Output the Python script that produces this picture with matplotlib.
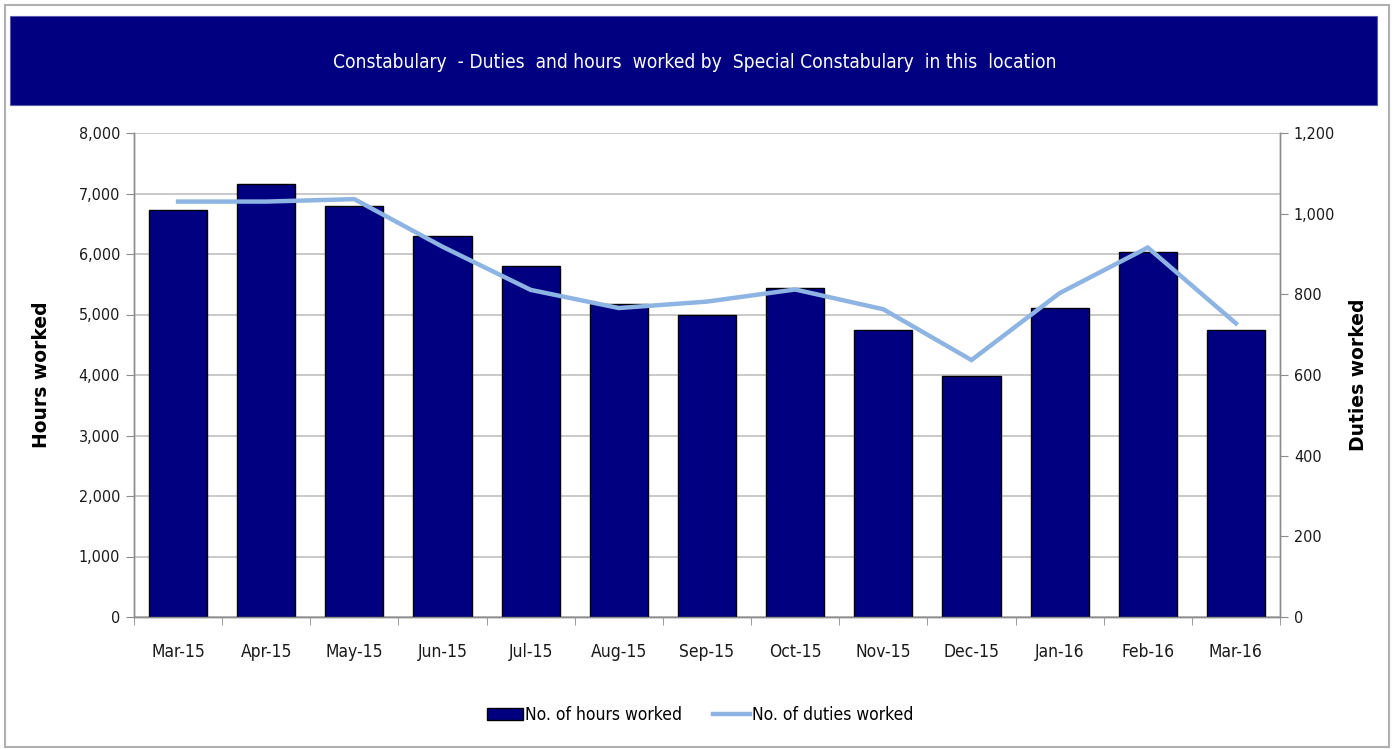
import matplotlib
matplotlib.use('Agg')
import matplotlib.pyplot as plt
from matplotlib.patches import Rectangle
import numpy as np

months = ['Mar-15', 'Apr-15', 'May-15', 'Jun-15', 'Jul-15', 'Aug-15', 'Sep-15',
          'Oct-15', 'Nov-15', 'Dec-15', 'Jan-16', 'Feb-16', 'Mar-16']
hours = [6730, 7150, 6790, 6300, 5800, 5170, 5000, 5440, 4740, 3980, 5100, 6030, 4740]
duties = [1030, 1030, 1036, 918, 811, 766, 782, 812, 763, 637, 803, 916, 728]

W, H = 1394, 749
navy = '#000080'
line_blue = '#8DB4E2'
grid_grey = '#c0c0c0'
axis_grey = '#8c8c8c'
txt = '#1a1a1a'

plt.rcParams['font.family'] = 'DejaVu Sans'

fig = plt.figure(figsize=(W / 100, H / 100), dpi=100)

# outer frame and title banner
fig.patches.append(Rectangle((5 / W, 1 - 747 / H), 1384 / W, 742 / H, transform=fig.transFigure,
                             facecolor='none', edgecolor='#b0b0b0', linewidth=1.5, zorder=-1))
fig.patches.append(Rectangle((10 / W, 1 - 105 / H), 1367 / W, 89 / H, transform=fig.transFigure,
                             facecolor=navy, edgecolor='#5a5ab0', linewidth=0.8, zorder=-1))
fig.text(695 / W, 1 - 62 / H,
         'Constabulary  - Duties  and hours  worked by  Special Constabulary  in this  location',
         color='white', fontsize=13.8, fontstretch='condensed', ha='center', va='center')

ax = fig.add_axes([134 / W, 1 - 617 / H, (1280 - 134) / W, (617 - 133) / H])
ax2 = ax.twinx()

x = np.arange(len(months))
bars = ax.bar(x, hours, width=0.66, color=navy, edgecolor='black', linewidth=1,
              label='No. of hours worked', zorder=3)
ln, = ax2.plot(x, duties, color=line_blue, linewidth=3.2, solid_joinstyle='miter',
               label='No. of duties worked', zorder=4)

ax.set_xlim(-0.5, len(months) - 0.5)
ax.set_ylim(0, 8000)
ax2.set_ylim(0, 1200)
ax.set_yticks(np.arange(0, 8001, 1000))
ax2.set_yticks(np.arange(0, 1201, 200))
ax.set_yticklabels(['{:,}'.format(v) for v in range(0, 8001, 1000)])
ax2.set_yticklabels(['{:,}'.format(v) for v in range(0, 1201, 200)])

ax.set_xticks(x)
ax.set_xticklabels(months)
ax.set_xticks(np.arange(-0.5, len(months)), minor=True)
ax.tick_params(axis='x', which='major', length=0, pad=19, labelsize=12.5, labelcolor=txt)
ax.tick_params(axis='x', which='minor', length=6, color=axis_grey, direction='out')
ax.tick_params(axis='y', length=6, color=axis_grey, labelsize=11.5, labelcolor=txt, pad=4)
ax2.tick_params(axis='y', length=6, color=axis_grey, labelsize=11.5, labelcolor=txt, pad=4)
for lab in ax.get_xticklabels() + ax.get_yticklabels() + ax2.get_yticklabels():
    lab.set_fontstretch('condensed')

ax.yaxis.grid(True, color=grid_grey, linewidth=1.2)
ax.set_axisbelow(True)

for a in (ax, ax2):
    a.spines['top'].set_visible(False)
    for s in ('left', 'right', 'bottom'):
        a.spines[s].set_color(axis_grey)
        a.spines[s].set_linewidth(1)
ax2.patch.set_visible(False)
ax.patch.set_visible(False)

fig.text(42 / W, 1 - 375 / H, 'Hours worked', rotation=90, fontsize=13.5, fontweight='bold',
         ha='center', va='center', color='black')
fig.text(1358 / W, 1 - 375 / H, 'Duties worked', rotation=90, fontsize=13.5, fontweight='bold',
         ha='center', va='center', color='black')

fig.legend([bars, ln], ['No. of hours worked', 'No. of duties worked'],
           loc='center', bbox_to_anchor=(700 / W, 1 - 715 / H), ncol=2, frameon=False,
           handlelength=2.1, handletextpad=0.1, columnspacing=1.8,
           prop={'size': 12.5, 'stretch': 'condensed'})

fig.savefig('out.png', dpi=100)
